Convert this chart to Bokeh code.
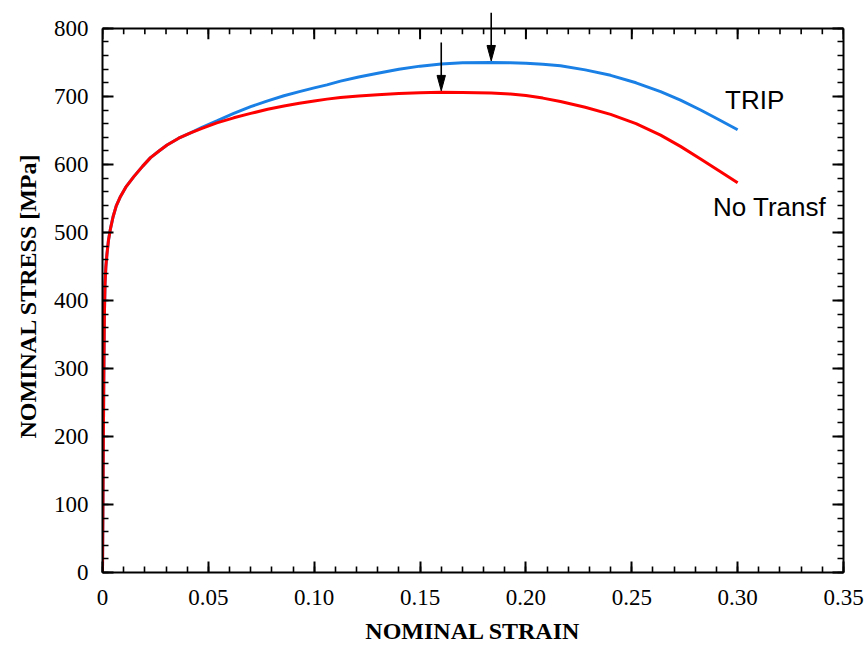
import numpy as np
from bokeh.plotting import figure
from bokeh.models import (LinearAxis, FixedTicker, Range1d, Label, Span, Title)
from bokeh.embed import file_html
from bokeh.resources import INLINE

# ---------------- data ----------------
strain = [0, 0.0003, 0.0006, 0.0009, 0.0012, 0.0016, 0.0021, 0.0028, 0.0038, 0.0050,
          0.0065, 0.0085, 0.0110, 0.0148, 0.0190, 0.0227, 0.0270, 0.0305, 0.0360, 0.0416,
          0.047, 0.054, 0.062, 0.070, 0.078, 0.0857, 0.093, 0.100, 0.106, 0.1124,
          0.121, 0.130, 0.140, 0.150, 0.160, 0.170, 0.1836, 0.1927, 0.200, 0.208,
          0.2163, 0.228, 0.240, 0.252, 0.2636, 0.273, 0.2825, 0.291, 0.300]
stress_trip = [0, 140, 280, 380, 425, 450, 468, 488, 506, 523,
               539, 553, 566.5, 582, 597.5, 610, 620.5, 628.5, 638.5, 646.5,
               654.5, 664, 675, 685, 693.5, 701, 707, 712.5, 717, 722.5,
               728.5, 734, 740, 744.5, 747.5, 749.3, 750, 749.6, 748.8, 747.3,
               745, 739, 731, 720, 707, 694.5, 680, 666, 651]
stress_notransf = [0, 140, 280, 380, 425, 450, 468, 488, 506, 523,
                   539, 553, 566.5, 582, 597.5, 610, 620.5, 628.5, 638.5, 646.5,
                   653, 661, 668.5, 675, 681, 686, 690, 693.3, 696, 698.3,
                   700.7, 702.6, 704.3, 705.4, 706, 705.9, 704.9, 703.4, 701.3, 697.5,
                   692.5, 684, 673.5, 660, 643, 626.5, 608, 591, 573]

x_ticks = [0, 0.05, 0.10, 0.15, 0.20, 0.25, 0.30, 0.35]
x_tick_labels = ["0", "0.05", "0.10", "0.15", "0.20", "0.25", "0.30", "0.35"]
y_ticks = [0, 100, 200, 300, 400, 500, 600, 700, 800]
y_tick_labels = ["0", "100", "200", "300", "400", "500", "600", "700", "800"]

x_label = "NOMINAL STRAIN"
y_label = "NOMINAL STRESS [MPa]"
series_names = ["TRIP", "No Transf"]

# ---------------- layout ----------------
W, H = 864, 646
BOX_L, BOX_T = 102, 28          # top-left corner of the drawn box
BOX_W, BOX_H = 741, 547         # size of the drawn box (0..0.35 x 0..800)
EXTRA = 22                      # frame extends above the box so the arrow can cross it
XMAX, YMAX = 0.35, 800
px_x = XMAX / BOX_W
px_y = YMAX / BOX_H
YTOP = YMAX + EXTRA * px_y
BL, BT = BOX_L, BOX_T - EXTRA
FW, FH = BOX_W, BOX_H + EXTRA
BR, BB = W - BL - FW, H - BT - FH

BLUE = "#1a80e6"
RED = "#ff0000"
SERIF = "Liberation Serif"
SANS = "Liberation Sans"

p = figure(width=W, height=H, output_backend="svg", toolbar_location=None,
           x_range=Range1d(0, XMAX), y_range=Range1d(0, YTOP),
           min_border_left=BL, min_border_right=BR, min_border_top=BT, min_border_bottom=BB,
           x_axis_location=None, y_axis_location=None)
p.outline_line_color = None
p.xgrid.visible = False
p.ygrid.visible = False
p.background_fill_color = "white"
p.border_fill_color = "white"

x_minor = [round(v, 3) for v in np.arange(0, XMAX + 1e-9, 0.01)]
y_minor = list(range(0, YMAX + 1, 20))
xt = FixedTicker(ticks=x_ticks, minor_ticks=x_minor)
yt = FixedTicker(ticks=y_ticks, minor_ticks=y_minor)

MAJ_LEN, MIN_LEN = 11, 6


def style(ax, show_labels):
    ax.axis_line_width = 2
    ax.axis_line_color = "black"
    ax.major_tick_in = MAJ_LEN
    ax.major_tick_out = 0
    ax.minor_tick_in = MIN_LEN
    ax.minor_tick_out = 0
    ax.major_tick_line_width = 2
    ax.minor_tick_line_width = 1.6
    ax.major_tick_line_color = "black"
    ax.minor_tick_line_color = "black"
    if show_labels:
        ax.major_label_text_font = SERIF
        ax.major_label_text_font_size = "23px"
        ax.major_label_text_color = "black"
        ax.axis_label_text_font = SERIF
        ax.axis_label_text_font_size = "24px"
        ax.axis_label_text_font_style = "bold"
        ax.axis_label_text_color = "black"
    else:
        ax.major_label_text_font_size = "1px"
        ax.major_label_text_color = None
        ax.major_label_standoff = 0


xb = LinearAxis(ticker=xt, axis_label=x_label,
                major_label_overrides={t: l for t, l in zip(x_ticks, x_tick_labels)})
style(xb, True)
xb.major_label_standoff = 17
xb.axis_label_standoff = 10
p.add_layout(xb, "below")

yl = LinearAxis(ticker=yt, bounds=(0, YMAX),
                major_label_overrides={t: l for t, l in zip(y_ticks, y_tick_labels)})
style(yl, True)
yl.major_label_standoff = 14
p.add_layout(yl, "left")

# y axis title, placed along the drawn box (not along the taller frame)
p.add_layout(Title(text=y_label, align="left", offset=134, standoff=19,
                   text_font=SERIF, text_font_size="24px", text_font_style="bold",
                   text_color="black"), "left")

yr = LinearAxis(ticker=yt, bounds=(0, YMAX))
style(yr, False)
p.add_layout(yr, "right")

# top edge of the box at y = 800 with inward ticks
p.add_layout(Span(location=YMAX, dimension="width", line_color="black", line_width=2))
p.segment(x0=x_ticks, y0=[YMAX] * len(x_ticks), x1=x_ticks,
          y1=[YMAX - MAJ_LEN * px_y] * len(x_ticks), line_color="black", line_width=2)
p.segment(x0=x_minor, y0=[YMAX] * len(x_minor), x1=x_minor,
          y1=[YMAX - MIN_LEN * px_y] * len(x_minor), line_color="black", line_width=1.6)

# ---------------- curves ----------------
p.line(strain, stress_trip, line_color=BLUE, line_width=3)
p.line(strain, stress_notransf, line_color=RED, line_width=3)

# ---------------- arrows at the maxima ----------------
head_len, head_hw, total = 17, 4.2, 50
for ys in (stress_trip, stress_notransf):
    i = int(np.argmax(ys))
    xp, yp = strain[i], ys[i]
    p.segment(x0=[xp], y0=[yp + total * px_y], x1=[xp], y1=[yp + (head_len - 1) * px_y],
              line_color="black", line_width=1.6)
    p.patch([xp - head_hw * px_x, xp + head_hw * px_x, xp],
            [yp + head_len * px_y, yp + head_len * px_y, yp + 1.5 * px_y],
            fill_color="black", line_color="black", line_width=1)

# ---------------- series labels ----------------
p.add_layout(Label(x=strain[-1], y=stress_trip[-1], text=series_names[0],
                   x_offset=17, y_offset=30, text_align="center", text_baseline="middle",
                   text_font=SANS, text_font_size="26px", text_color="black"))
p.add_layout(Label(x=strain[-1], y=stress_notransf[-1], text=series_names[1],
                   x_offset=32, y_offset=-24, text_align="center", text_baseline="middle",
                   text_font=SANS, text_font_size="26px", text_color="black"))

open("out.html", "w").write(file_html(p, INLINE))
